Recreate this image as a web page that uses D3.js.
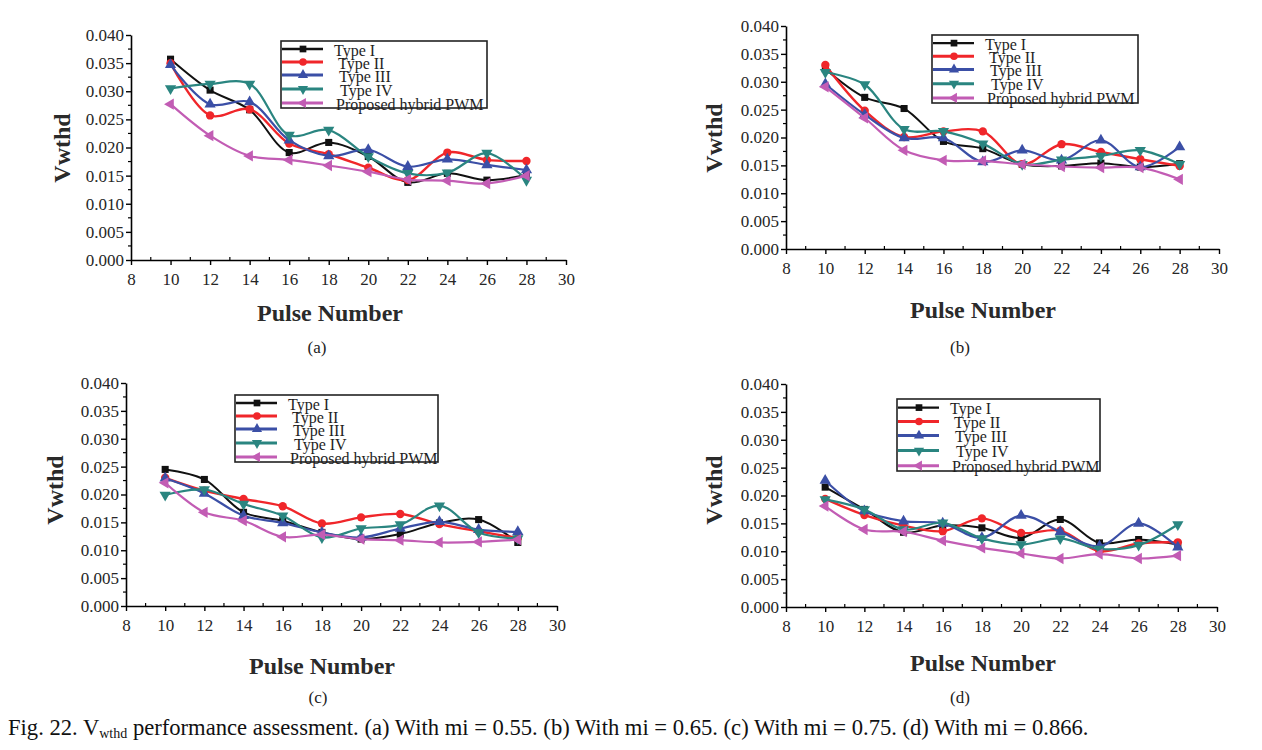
<!DOCTYPE html>
<html>
<head>
<meta charset="utf-8">
<script src="https://cdn.jsdelivr.net/npm/d3@7"></script>
<style>
  html, body { margin: 0; padding: 0; background: #fff; }
  svg { display: block; }
  text { font-family: "Liberation Serif", "Times New Roman", serif; }
</style>
</head>
<body>
<svg id="chart" width="1262" height="750"></svg>
<script>
// ---------------- DATA ----------------
const pulses = [10, 12, 14, 16, 18, 20, 22, 24, 26, 28];
const seriesNames = ["Type I", "Type II", "Type III", "Type IV", "Proposed hybrid PWM"];
const xTicks = [8, 10, 12, 14, 16, 18, 20, 22, 24, 26, 28, 30];
const yTicks = [0.000, 0.005, 0.010, 0.015, 0.020, 0.025, 0.030, 0.035, 0.040];
const panelLabels = ["(a)", "(b)", "(c)", "(d)"];

// (a) mi = 0.55
const a_type1 = [0.0357, 0.0302, 0.0267, 0.0191, 0.0209, 0.0184, 0.0138, 0.0154, 0.0142, 0.0151];
const a_type2 = [0.0350, 0.0257, 0.0268, 0.0207, 0.0188, 0.0164, 0.0142, 0.0191, 0.0178, 0.0176];
const a_type3 = [0.0347, 0.0277, 0.0281, 0.0213, 0.0185, 0.0196, 0.0166, 0.0179, 0.0169, 0.0160];
const a_type4 = [0.0305, 0.0313, 0.0313, 0.0222, 0.0231, 0.0184, 0.0154, 0.0155, 0.0190, 0.0142];
const a_hybrid = [0.0277, 0.0221, 0.0185, 0.0178, 0.0168, 0.0157, 0.0143, 0.0141, 0.0136, 0.0150];

// (b) mi = 0.65
const b_type1 = [0.0323, 0.0272, 0.0252, 0.0193, 0.0180, 0.0152, 0.0149, 0.0154, 0.0147, 0.0153];
const b_type2 = [0.0330, 0.0248, 0.0201, 0.0211, 0.0211, 0.0152, 0.0188, 0.0174, 0.0161, 0.0149];
const b_type3 = [0.0296, 0.0241, 0.0199, 0.0199, 0.0156, 0.0177, 0.0159, 0.0195, 0.0147, 0.0183];
const b_type4 = [0.0317, 0.0295, 0.0215, 0.0211, 0.0189, 0.0152, 0.0160, 0.0167, 0.0177, 0.0152];
const b_hybrid = [0.0291, 0.0235, 0.0177, 0.0159, 0.0158, 0.0152, 0.0148, 0.0146, 0.0146, 0.0125];

// (c) mi = 0.75
const c_type1 = [0.0245, 0.0227, 0.0168, 0.0153, 0.0132, 0.0120, 0.0129, 0.0149, 0.0155, 0.0114];
const c_type2 = [0.0230, 0.0207, 0.0192, 0.0179, 0.0148, 0.0159, 0.0165, 0.0147, 0.0134, 0.0122];
const c_type3 = [0.0229, 0.0202, 0.0162, 0.0149, 0.0132, 0.0123, 0.0139, 0.0151, 0.0137, 0.0133];
const c_type4 = [0.0199, 0.0209, 0.0183, 0.0162, 0.0123, 0.0139, 0.0146, 0.0180, 0.0132, 0.0121];
const c_hybrid = [0.0221, 0.0168, 0.0153, 0.0124, 0.0128, 0.0120, 0.0118, 0.0114, 0.0115, 0.0119];

// (d) mi = 0.866
const d_type1 = [0.0215, 0.0175, 0.0134, 0.0146, 0.0142, 0.0124, 0.0157, 0.0115, 0.0121, 0.0112];
const d_type2 = [0.0194, 0.0165, 0.0146, 0.0136, 0.0159, 0.0133, 0.0137, 0.0100, 0.0114, 0.0116];
const d_type3 = [0.0227, 0.0172, 0.0154, 0.0150, 0.0124, 0.0164, 0.0135, 0.0109, 0.0150, 0.0107];
const d_type4 = [0.0193, 0.0175, 0.0139, 0.0151, 0.0123, 0.0112, 0.0123, 0.0104, 0.0111, 0.0148];
const d_hybrid = [0.0181, 0.0139, 0.0135, 0.0119, 0.0106, 0.0096, 0.0087, 0.0095, 0.0087, 0.0092];

// ---------------- STYLE / LAYOUT ----------------
const colors = ["#111111", "#f0262a", "#3b4fa6", "#2a8580", "#c25cb4"];
const symbolTypes = [d3.symbolSquare, d3.symbolCircle, d3.symbolTriangle, d3.symbolTriangle, d3.symbolTriangle];
const symbolRot = [0, 0, 0, 180, -90];
const lineWidths = [2, 2.4, 2.2, 2.2, 2.2];

const panels = [
  { data: [a_type1, a_type2, a_type3, a_type4, a_hybrid], x0: 131, x1: 566, y0: 260, y1: 35,
    legend: [281, 41, 206, 67], ylab: [62, 148], xlab: [330, 313], sub: [317, 347] },
  { data: [b_type1, b_type2, b_type3, b_type4, b_hybrid], x0: 786, x1: 1219, y0: 249, y1: 26,
    legend: [932, 35, 206, 68], ylab: [714, 138], xlab: [983, 310], sub: [960, 347] },
  { data: [c_type1, c_type2, c_type3, c_type4, c_hybrid], x0: 126, x1: 557, y0: 606, y1: 383,
    legend: [235, 395, 203, 67], ylab: [55, 490], xlab: [322, 666], sub: [318, 697] },
  { data: [d_type1, d_type2, d_type3, d_type4, d_hybrid], x0: 786, x1: 1217, y0: 607, y1: 384,
    legend: [897, 399, 203, 72], ylab: [714, 490], xlab: [983, 663], sub: [960, 697] }
];

const svg = d3.select("#chart");
const textColor = "#262626";

panels.forEach((p, pi) => {
  const x = d3.scaleLinear().domain([8, 30]).range([p.x0, p.x1]);
  const y = d3.scaleLinear().domain([0, 0.040]).range([p.y0, p.y1]);
  const g = svg.append("g");

  // Y axis
  const yAxis = d3.axisLeft(y).tickValues(yTicks).tickFormat(d3.format(".3f")).tickSize(5).tickSizeOuter(0);
  const gy = g.append("g").attr("transform", `translate(${p.x0},0)`).call(yAxis);
  const yMinor = d3.range(0.0025, 0.040, 0.005);
  gy.selectAll(".minor").data(yMinor).enter().append("line")
    .attr("x1", 0).attr("x2", -3).attr("y1", d => y(d)).attr("y2", d => y(d))
    .attr("stroke", "#000").attr("stroke-width", 1.2);

  // X axis
  const xAxis = d3.axisBottom(x).tickValues(xTicks).tickFormat(d3.format("d")).tickSize(5).tickSizeOuter(0);
  const gx = g.append("g").attr("transform", `translate(0,${p.y0})`).call(xAxis);
  const xMinor = d3.range(9, 30, 2);
  gx.selectAll(".minor").data(xMinor).enter().append("line")
    .attr("x1", d => x(d)).attr("x2", d => x(d)).attr("y1", 0).attr("y2", -3)
    .attr("stroke", "#000").attr("stroke-width", 1.2);

  [gx, gy].forEach(ax => {
    ax.attr("font-family", null);
    ax.select(".domain").attr("stroke", "#000").attr("stroke-width", 1.6);
    ax.selectAll(".tick line").attr("stroke", "#000").attr("stroke-width", 1.4);
    ax.selectAll("text").attr("fill", textColor).style("font-size", "17px")
      .style("font-family", '"Liberation Serif", "Times New Roman", serif');
  });
  gy.selectAll(".tick text").attr("x", -7);
  gx.selectAll(".tick text").attr("y", 13);

  // axis titles
  g.append("text")
    .attr("transform", `translate(${p.ylab[0]},${p.ylab[1]}) rotate(-90)`)
    .attr("text-anchor", "middle").attr("dominant-baseline", "central")
    .attr("font-size", 24).attr("font-weight", "bold").attr("fill", "#2a2a2a")
    .text("Vwthd");
  g.append("text")
    .attr("x", p.xlab[0]).attr("y", p.xlab[1])
    .attr("text-anchor", "middle").attr("dominant-baseline", "central")
    .attr("font-size", 24).attr("font-weight", "bold").attr("fill", "#2a2a2a")
    .text("Pulse Number");
  g.append("text")
    .attr("x", p.sub[0]).attr("y", p.sub[1])
    .attr("text-anchor", "middle").attr("dominant-baseline", "central")
    .attr("font-size", 17).attr("fill", "#222")
    .text(panelLabels[pi]);

  // series
  const line = d3.line().x((d, i) => x(pulses[i])).y(d => y(d)).curve(d3.curveCatmullRom.alpha(0.5));
  p.data.forEach((vals, si) => {
    g.append("path").datum(vals).attr("d", line)
      .attr("fill", "none").attr("stroke", colors[si]).attr("stroke-width", lineWidths[si]);
    g.selectAll(null).data(vals).enter().append("path")
      .attr("d", d3.symbol().type(symbolTypes[si]).size(si === 0 ? 50 : 55))
      .attr("transform", (d, i) => `translate(${x(pulses[i])},${y(d)}) rotate(${symbolRot[si]})`)
      .attr("fill", colors[si]);
  });

  // legend
  const [lx, ly, lw, lh] = p.legend;
  const lg = g.append("g");
  lg.append("rect").attr("x", lx).attr("y", ly).attr("width", lw).attr("height", lh)
    .attr("fill", "#fff").attr("stroke", "#222").attr("stroke-width", 1.6);
  const rowOff = [8, 21, 34, 48, 62];
  const textOff = [53, 57, 58, 59, 55];
  seriesNames.forEach((name, si) => {
    const yy = ly + rowOff[si] * lh / 67;
    lg.append("line").attr("x1", lx + 1).attr("x2", lx + 42).attr("y1", yy).attr("y2", yy)
      .attr("stroke", colors[si]).attr("stroke-width", si === 0 ? 2.4 : 3);
    lg.append("path")
      .attr("d", d3.symbol().type(symbolTypes[si]).size(45))
      .attr("transform", `translate(${lx + 22},${yy}) rotate(${symbolRot[si]})`)
      .attr("fill", colors[si]);
    lg.append("text").attr("x", lx + textOff[si]).attr("y", yy + 1)
      .attr("dominant-baseline", "central").attr("font-size", 16).attr("fill", "#1e1e1e")
      .text(name);
  });
});

// caption
const cap = svg.append("text").attr("x", 8).attr("y", 735).attr("font-size", 22.6).attr("fill", "#111");
cap.append("tspan").text("Fig. 22. V");
cap.append("tspan").attr("font-size", 14).attr("dy", 3).text("wthd");
cap.append("tspan").attr("dy", -3).text(" performance assessment. (a) With mi = 0.55. (b) With mi = 0.65. (c) With mi = 0.75. (d) With mi = 0.866.");
</script>
</body>
</html>
